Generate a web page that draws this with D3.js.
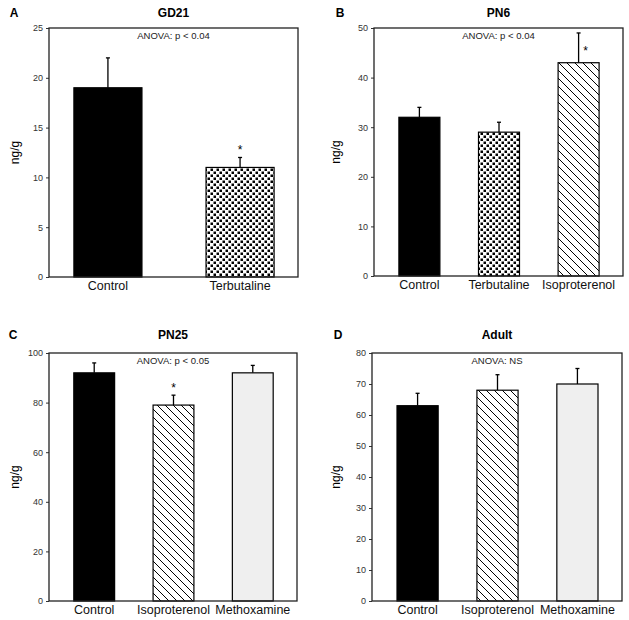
<!DOCTYPE html>
<html><head><meta charset="utf-8">
<script src="https://cdn.jsdelivr.net/npm/d3@7"></script>
<style>body{margin:0;background:#fff}svg{display:block;font-family:"Liberation Sans",Arial,sans-serif}</style>
</head><body><svg id="c" width="629" height="620"></svg>
<script>
// ---- data ----
const panelLetters = ["A", "B", "C", "D"];
const panelTitles = ["GD21", "PN6", "PN25", "Adult"];
const anovaTexts = ["ANOVA: p < 0.04", "ANOVA: p < 0.04", "ANOVA: p < 0.05", "ANOVA: NS"];

const categoriesA = ["Control", "Terbutaline"];
const valuesA = [19, 11];
const errorsA = [3, 1];
const signifA = [false, true];
const ticksA = [0, 5, 10, 15, 20, 25];

const categoriesB = ["Control", "Terbutaline", "Isoproterenol"];
const valuesB = [32, 29, 43];
const errorsB = [2, 2, 6];
const signifB = [false, false, true];
const ticksB = [0, 10, 20, 30, 40, 50];

const categoriesC = ["Control", "Isoproterenol", "Methoxamine"];
const valuesC = [92, 79, 92];
const errorsC = [4, 4, 3];
const signifC = [false, true, false];
const ticksC = [0, 20, 40, 60, 80, 100];

const categoriesD = ["Control", "Isoproterenol", "Methoxamine"];
const valuesD = [63, 68, 70];
const errorsD = [4, 5, 5];
const signifD = [false, false, false];
const ticksD = [0, 10, 20, 30, 40, 50, 60, 70, 80];

const yLabel = "ng/g";

// ---- layout ----
const frames = [
  {l: 49, t: 28, r: 298, b: 277, titleY: 17, letterX: 14, ylabX: 15},
  {l: 374, t: 28, r: 623, b: 276, titleY: 17, letterX: 340, ylabX: 336},
  {l: 49, t: 353, r: 297, b: 601, titleY: 339, letterX: 13, ylabX: 15},
  {l: 372, t: 353, r: 622, b: 601, titleY: 339, letterX: 338, ylabX: 336}
];
const panels = [
  {cats: categoriesA, vals: valuesA, errs: errorsA, sig: signifA, ticks: ticksA},
  {cats: categoriesB, vals: valuesB, errs: errorsB, sig: signifB, ticks: ticksB},
  {cats: categoriesC, vals: valuesC, errs: errorsC, sig: signifC, ticks: ticksC},
  {cats: categoriesD, vals: valuesD, errs: errorsD, sig: signifD, ticks: ticksD}
];

const svg = d3.select("#c");
const defs = svg.append("defs");
// dot pattern
const dots = defs.append("pattern").attr("id", "dots").attr("patternUnits", "userSpaceOnUse")
  .attr("width", 6).attr("height", 6);
dots.append("rect").attr("width", 6).attr("height", 6).attr("fill", "#fff");
dots.append("rect").attr("x", 0.5).attr("y", 0.5).attr("width", 2.5).attr("height", 2.5).attr("fill", "#000");
dots.append("rect").attr("x", 3.5).attr("y", 3.5).attr("width", 2.5).attr("height", 2.5).attr("fill", "#000");
// hatch pattern (\\)
const hatch = defs.append("pattern").attr("id", "hatch").attr("patternUnits", "userSpaceOnUse")
  .attr("width", 8).attr("height", 8);
hatch.append("rect").attr("width", 8).attr("height", 8).attr("fill", "#fff");
hatch.append("path").attr("d", "M-2,-2L10,10M-2,6L2,10M6,-2L10,2")
  .attr("stroke", "#000").attr("stroke-width", 1);

const fillFor = {
  "Control": "#000",
  "Terbutaline": "url(#dots)",
  "Isoproterenol": "url(#hatch)",
  "Methoxamine": "#efefef"
};

panels.forEach((p, i) => {
  const f = frames[i];
  const w = f.r - f.l, h = f.b - f.t;
  const g = svg.append("g");
  const x = d3.scaleBand().domain(p.cats)
    .range([f.l + 0.1 * w, f.l + 0.904 * w]).paddingInner(0.485).paddingOuter(0);
  const y = d3.scaleLinear().domain([0, d3.max(p.ticks)]).range([f.b, f.t]);

  // title & letter
  g.append("text").attr("x", (f.l + f.r) / 2).attr("y", f.titleY).attr("text-anchor", "middle")
    .attr("font-weight", "bold").attr("font-size", 12).text(panelTitles[i]);
  g.append("text").attr("x", f.letterX).attr("y", f.titleY).attr("text-anchor", "middle")
    .attr("font-weight", "bold").attr("font-size", 12).text(panelLetters[i]);

  // y axis
  const ya = g.append("g").attr("transform", `translate(${f.l},0)`)
    .call(d3.axisLeft(y).tickValues(p.ticks).tickSize(3).tickPadding(3).tickFormat(d3.format("d")));
  ya.select(".domain").remove();
  ya.selectAll("text").attr("font-size", 9).attr("fill", "#333").attr("font-family", "Liberation Sans, Arial, sans-serif");
  ya.selectAll("line").attr("stroke", "#333");

  // x labels
  const xa = g.append("g").attr("transform", `translate(0,${f.b})`)
    .call(d3.axisBottom(x).tickSize(0).tickPadding(4));
  xa.select(".domain").remove();
  xa.selectAll("text").attr("font-size", 12.5).attr("fill", "#111").attr("font-family", "Liberation Sans, Arial, sans-serif");

  // y label
  g.append("text").attr("transform", `translate(${f.ylabX + 4},${(f.t + f.b) / 2}) rotate(-90)`)
    .attr("text-anchor", "middle").attr("font-size", 12).text(yLabel);

  // error bars
  p.cats.forEach((c, j) => {
    const cx = x(c) + x.bandwidth() / 2;
    const top = y(p.vals[j] + p.errs[j]);
    g.append("line").attr("x1", cx).attr("x2", cx).attr("y1", y(p.vals[j])).attr("y2", top)
      .attr("stroke", "#000").attr("stroke-width", 1.3);
    g.append("line").attr("x1", cx - 2).attr("x2", cx + 2).attr("y1", top).attr("y2", top)
      .attr("stroke", "#000").attr("stroke-width", 1.3);
    if (p.sig[j]) {
      let ax = cx, ay = top - 3;
      if (top - 14 < f.t) { ax = cx + 7; ay = top + 22; }
      g.append("text").attr("x", ax).attr("y", ay).attr("text-anchor", "middle")
        .attr("font-size", 12).text("*");
    }
  });

  // bars
  g.selectAll("rect.bar").data(p.cats).enter().append("rect").attr("class", "bar")
    .attr("x", d => x(d)).attr("width", x.bandwidth())
    .attr("y", (d, j) => y(p.vals[j])).attr("height", (d, j) => f.b - y(p.vals[j]))
    .attr("fill", d => fillFor[d]).attr("stroke", "#000").attr("stroke-width", 1.2);

  // ANOVA
  g.append("text").attr("x", (f.l + f.r) / 2).attr("y", f.t + 11).attr("text-anchor", "middle")
    .attr("font-size", 9.5).attr("fill", "#222").text(anovaTexts[i]);

  // frame
  g.append("rect").attr("x", f.l).attr("y", f.t).attr("width", w).attr("height", h)
    .attr("fill", "none").attr("stroke", "#222").attr("stroke-width", 1.3);
});
</script></body></html>
